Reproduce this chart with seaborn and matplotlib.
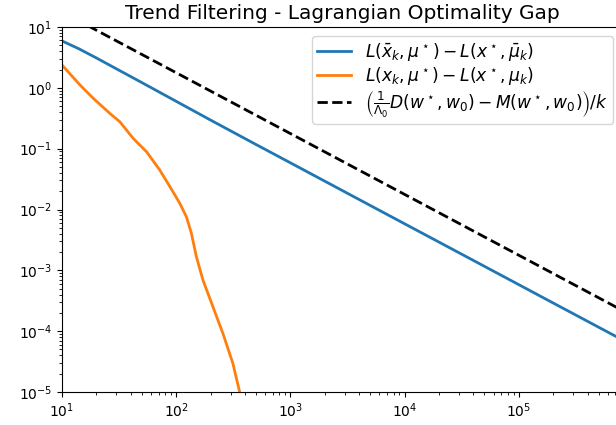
import matplotlib
matplotlib.use("Agg")
import matplotlib.pyplot as plt
import seaborn as sns
import numpy as np

# Averaged iterates gap (blue)
k_avg = [10, 14, 20, 30, 50, 100, 200, 500, 1e3, 2e3, 5e3, 1e4, 2e4, 5e4, 1e5, 2e5, 5e5, 8e5]
gap_avg = [5.9, 4.4, 3.1, 2.05, 1.22, 0.6, 0.295, 0.117, 0.0585, 0.0292, 0.01165, 0.00582,
           0.00291, 0.001163, 5.81e-4, 2.9e-4, 1.16e-4, 7.26e-5]

# Last iterate gap (orange)
k_last = [10, 14.4, 18.8, 26.2, 32.1, 42, 55, 71.8, 93.8, 107.4, 122.8, 135.8, 150.1,
          171.4, 209.6, 256.3, 313.3, 358.8, 400]
gap_last = [2.37, 1.11, 0.671, 0.381, 0.277, 0.1475, 0.0889, 0.0445, 0.0195, 0.01265,
            0.0076, 0.00406, 0.00168, 6.93e-4, 2.52e-4, 9.2e-5, 2.96e-5, 1.01e-5, 4e-6]

# Theoretical bound (dashed)
k_bound = [10, 100, 1e3, 1e4, 1e5, 8e5]
gap_bound = [17.7, 1.77, 0.177, 0.0177, 0.00177, 2.21e-4]

labels = [r'$L(\bar{x}_k,\mu^\star)-L(x^\star,\bar{\mu}_k)$',
          r'$L(x_k,\mu^\star)-L(x^\star,\mu_k)$',
          r'$\left(\frac{1}{\Lambda_0}D(w^\star,w_0)-M(w^\star,w_0)\right)/k$']

plt.rcParams['font.family'] = ['DejaVu Sans']
fig = plt.figure(figsize=(6.16, 4.25), dpi=100)
ax = fig.add_axes([62/616, 33/425, (622-62)/616, 365/425])

sns.lineplot(x=k_avg, y=gap_avg, color='#1f77b4', lw=2, label=labels[0], ax=ax)
sns.lineplot(x=k_last, y=gap_last, color='#ff7f0e', lw=2, label=labels[1], ax=ax)
sns.lineplot(x=k_bound, y=gap_bound, color='black', lw=2, linestyle='--', label=labels[2], ax=ax)

ax.set_xscale('log')
ax.set_yscale('log')
ax.set_xlim(10, 8e5)
ax.set_ylim(1e-5, 10)
ax.set_title('Trend Filtering - Lagrangian Optimality Gap', fontsize=14.5)
ax.tick_params(labelsize=10)
ax.legend(loc='upper right', fontsize=12.3, labelspacing=0.12, borderpad=0.3)

fig.savefig('out.png', dpi=100)
